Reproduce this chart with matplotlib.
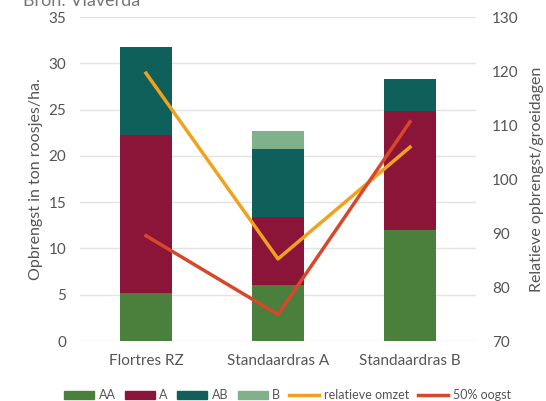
import numpy as np
import matplotlib
matplotlib.use("Agg")
import matplotlib.pyplot as plt
from matplotlib.patches import Patch
from matplotlib.lines import Line2D

plt.rcParams['font.family'] = ['Lato', 'DejaVu Sans']

# data
rassen = ['Flortres RZ', 'Standaardras A', 'Standaardras B']
aa = [5.2, 6.0, 12.0]
a = [17.0, 7.4, 12.9]
ab = [9.6, 7.3, 3.4]
b = [0.0, 2.0, 0.0]
relatieve_omzet = [119.6, 85.2, 105.9]
oogst_50 = [89.5, 74.9, 110.6]

kleuren = {'AA': '#4a7f3c', 'A': '#8a1538', 'AB': '#0f5f5a', 'B': '#80b18a'}
c_omzet = '#f0a21e'
c_oogst = '#d9472b'
grijs = '#555555'

fig = plt.figure(figsize=(5.46, 4.01), dpi=100)
ax = fig.add_axes([80 / 546, 0.1496, 396 / 546, 0.808])
x = np.arange(len(rassen))
w = 0.4

bottom = np.zeros(len(rassen))
for naam, vals in [('AA', aa), ('A', a), ('AB', ab), ('B', b)]:
    ax.bar(x, vals, w, bottom=bottom, color=kleuren[naam], zorder=2)
    bottom += np.array(vals)

ax.set_ylim(0, 35)
ax.set_yticks(range(0, 36, 5))
ax.set_xlim(-0.5, 2.5)
ax.set_xticks(x)
ax.set_xticklabels(rassen)
ax.grid(axis='y', color='#e3e3e3', linewidth=1, zorder=0)
for s in ax.spines.values():
    s.set_visible(False)
ax.tick_params(length=0, colors=grijs, labelsize=11, pad=10)
ax.tick_params(axis='x', pad=9)
ax.set_ylabel('Opbrengst in ton roosjes/ha.', color=grijs, fontsize=11.5, labelpad=4)

ax2 = ax.twinx()
ax2.plot(x, relatieve_omzet, color=c_omzet, linewidth=2.5, zorder=3)
ax2.plot(x, oogst_50, color=c_oogst, linewidth=2.5, zorder=3)
ax2.set_ylim(70, 130)
ax2.set_yticks(range(70, 131, 10))
for s in ax2.spines.values():
    s.set_visible(False)
ax2.tick_params(length=0, colors=grijs, labelsize=11, pad=11.5)
ax2.set_ylabel('Relatieve opbrengst/groeidagen', color=grijs, fontsize=11.5, labelpad=8)

fig.text(23 / 546, 1 - 6 / 401, 'Bron: Vlaverda', color='#777777', fontsize=13, va='baseline')

handles = [Patch(color=kleuren[k]) for k in ['AA', 'A', 'AB', 'B']]
handles += [Line2D([], [], color=c_omzet, lw=2.5), Line2D([], [], color=c_oogst, lw=2.5)]
labels = ['AA', 'A', 'AB', 'B', 'relatieve omzet', '50% oogst']
fig.legend(handles, labels, loc='center left', bbox_to_anchor=(58 / 546, 6 / 401), ncol=6,
           frameon=False, fontsize=9, handlelength=2.4, handleheight=0.6,
           columnspacing=0.75, handletextpad=0.35, labelcolor=grijs, borderpad=0)

fig.savefig('out.png', dpi=100)
